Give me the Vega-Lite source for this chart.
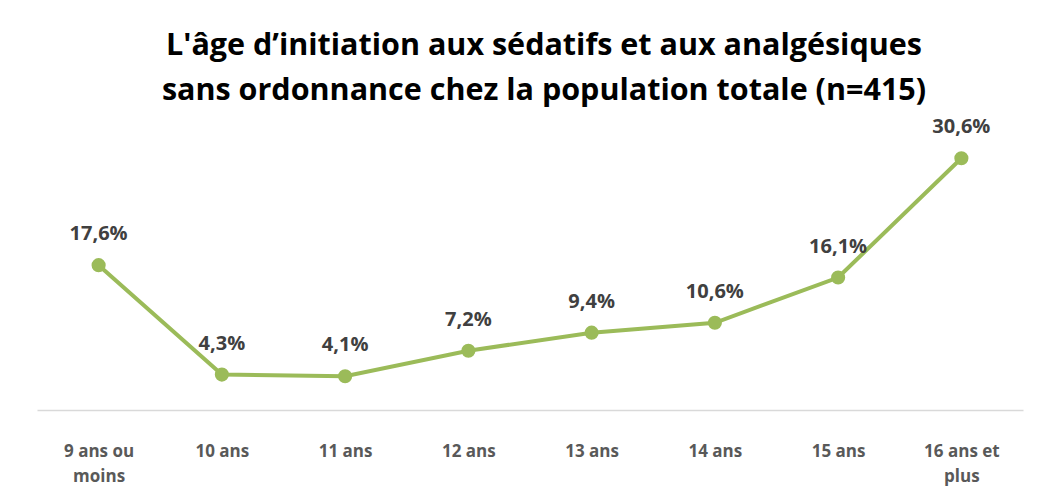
{
  "$schema": "https://vega.github.io/schema/vega-lite/v6.json",
  "autosize": "none",
  "width": 986,
  "height": 288,
  "padding": {"left": 37, "top": 122, "right": 17, "bottom": 83},
  "background": "white",
  "title": {
    "text": ["L'âge d’initiation aux sédatifs et aux analgésiques", "sans ordonnance chez la population totale (n=415)"],
    "font": "Open Sans",
    "fontSize": 30.5,
    "fontWeight": "bold",
    "color": "#000000",
    "lineHeight": 45,
    "anchor": "middle",
    "offset": 11,
    "dx": 14
  },
  "data": {
    "values": [
      {"age": "9 ans ou moins", "pct": 17.6},
      {"age": "10 ans", "pct": 4.3},
      {"age": "11 ans", "pct": 4.1},
      {"age": "12 ans", "pct": 7.2},
      {"age": "13 ans", "pct": 9.4},
      {"age": "14 ans", "pct": 10.6},
      {"age": "15 ans", "pct": 16.1},
      {"age": "16 ans et plus", "pct": 30.6}
    ]
  },
  "encoding": {
    "x": {
      "field": "age",
      "type": "nominal",
      "sort": null,
      "scale": {"paddingInner": 0, "paddingOuter": 0.5},
      "axis": {
        "title": null,
        "labelAngle": 0,
        "ticks": false,
        "tickSize": 0,
        "domainColor": "#d9d9d9",
        "domainWidth": 1.5,
        "labelFont": "Open Sans",
        "labelFontSize": 17,
        "labelFontWeight": "bold",
        "labelColor": "#595959",
        "labelPadding": 33,
        "labelLineHeight": 25,
        "labelExpr": "datum.label == '9 ans ou moins' ? ['9 ans ou', 'moins'] : datum.label == '16 ans et plus' ? ['16 ans et', 'plus'] : datum.label"
      }
    },
    "y": {
      "field": "pct",
      "type": "quantitative",
      "scale": {"domain": [0, 35], "nice": false},
      "axis": null
    }
  },
  "layer": [
    {
      "mark": {"type": "line", "color": "#9BBB59", "strokeWidth": 4}
    },
    {
      "mark": {"type": "point", "filled": true, "color": "#9BBB59", "opacity": 1, "size": 200}
    },
    {
      "transform": [
        {"calculate": "replace(format(datum.pct, '.1f'), '.', ',') + '%'", "as": "label"}
      ],
      "mark": {"type": "text", "dy": -31, "font": "Open Sans", "fontSize": 20, "fontWeight": "bold", "color": "#404040"},
      "encoding": {
        "text": {"field": "label", "type": "nominal"}
      }
    }
  ],
  "config": {
    "view": {"stroke": null}
  }
}
